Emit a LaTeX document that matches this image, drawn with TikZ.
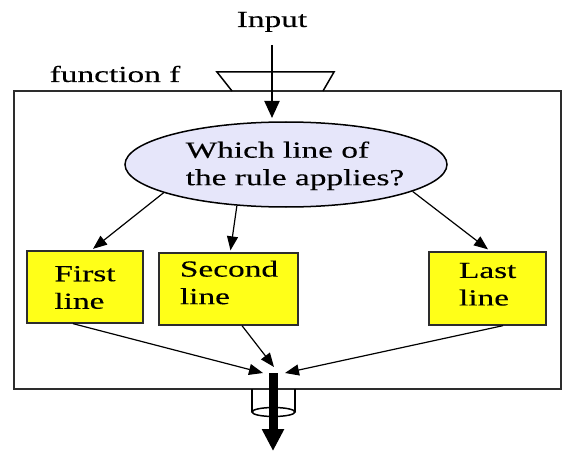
\documentclass[tikz,border=0pt]{standalone}
\usepackage{fontspec}
\setmainfont{Liberation Serif}[FakeStretch=1.45,FakeBold=0.25]
\usetikzlibrary{arrows.meta,shapes.geometric}
\definecolor{lav}{RGB}{230,230,250}
\definecolor{yel}{RGB}{255,255,24}
\definecolor{frm}{RGB}{45,45,45}
\tikzset{
  lbl/.style={font=\fontsize{23}{27.5}\selectfont, inner sep=0pt, align=left},
  ybox/.style={draw=frm, line width=1.3pt, fill=yel, inner sep=0pt},
  thinarrow/.style={line width=1.2pt, -{Triangle[length=14pt,width=11pt]}},
}
\begin{document}
\begin{tikzpicture}[x=1pt,y=-1pt]
\useasboundingbox (0,0) rectangle (563,452);
% frame of the function
\node[draw=frm, line width=2pt, minimum width=547pt, minimum height=298pt, inner sep=0pt] (frame) at (287.5,240) {};
\node[lbl, anchor=base] (fn) at (115,82) {function f};
% input funnel
\draw[line width=1.5pt] (232,91) -- (217,72) -- (334,72) -- (323,91);
% question ellipse
\node[ellipse, draw, line width=1.5pt, fill=lav, minimum width=322pt, minimum height=85pt, inner sep=0pt] (q) at (286,164.5) {};
\node[lbl] (qt) at (295,165.8) {Which line of\\the rule applies?};
% input
\node[lbl, anchor=base] (inp) at (272,27) {Input};
\coordinate (i1) at (272,45);
\coordinate (i2) at (272,118);
\draw[line width=2pt, -{Triangle[length=17pt,width=15pt]}] (i1) -- (i2);
% boxes
\node[ybox, minimum width=116pt, minimum height=72pt] (b1) at (85,287) {};
\node[lbl] (t1) at (85,287.5) {First\\line};
\node[ybox, minimum width=139pt, minimum height=72pt] (b2) at (228.5,289) {};
\node[lbl] (t2) at (229,282.5) {Second\\line};
\node[ybox, minimum width=117pt, minimum height=73pt] (b3) at (487.5,288.5) {};
\node[lbl] (t3) at (487.7,284.3) {Last\\line};
% arrows to boxes
\draw[thinarrow] (q.193) -- ([xshift=8pt,yshift=1.5pt]b1.north);
\draw[thinarrow] (q.220) -- ([xshift=2pt,yshift=2pt]b2.north);
\draw[thinarrow] (q.348) -- ([xshift=0.5pt,yshift=2pt]b3.north);
% arrows to output
\coordinate (j1) at (263,373);
\coordinate (j2) at (274,367);
\coordinate (j3) at (285,373);
\draw[thinarrow] ([xshift=-12pt]b1.south) -- (j1);
\draw[thinarrow] ([xshift=13.5pt]b2.south) -- (j2);
\draw[thinarrow] ([xshift=15.5pt]b3.south) -- (j3);
% output cylinder
\draw[line width=1.5pt] (252,389) -- (252,412) (295,389) -- (295,412);
\draw[line width=1.5pt] (273.5,412) ellipse (21.5pt and 4.5pt);
\coordinate (o1) at (273,373);
\coordinate (o2) at (273,451);
\draw[line width=9pt, -{Triangle[length=22pt,width=21pt]}] (o1) -- (o2);
\end{tikzpicture}
\end{document}
